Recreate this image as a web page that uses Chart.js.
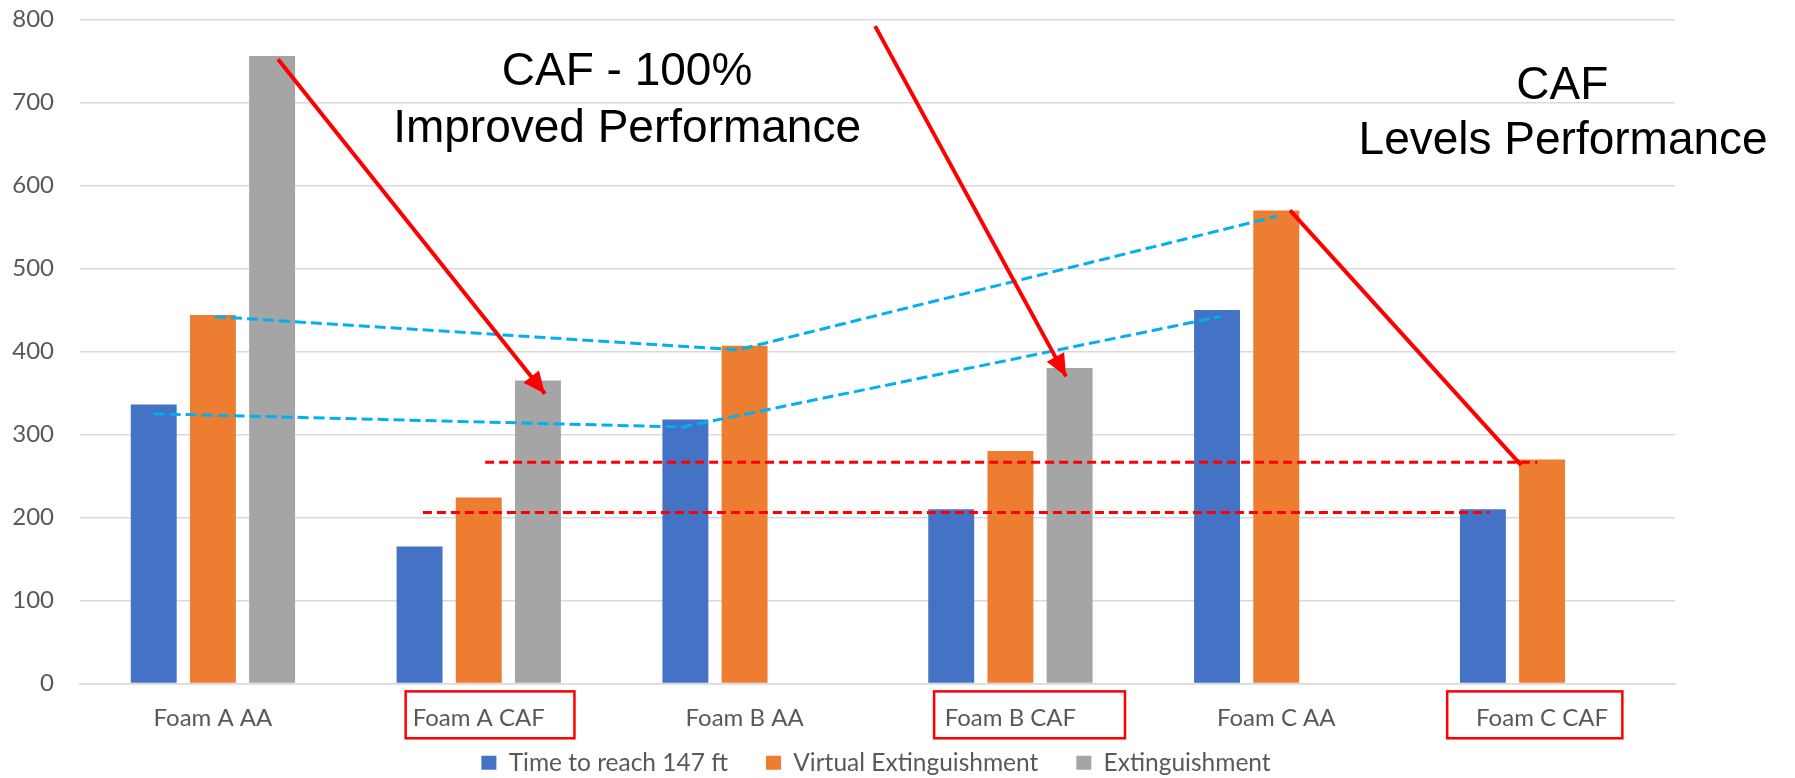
<!DOCTYPE html>
<html>
<head>
<meta charset="utf-8">
<script src="https://cdn.jsdelivr.net/npm/chart.js@4/dist/chart.umd.min.js"></script>
<style>
  html, body { margin: 0; padding: 0; background: #fff; }
  #wrap { width: 1795px; height: 778px; }
</style>
</head>
<body>
<div id="wrap"><canvas id="chart" width="1795" height="778"></canvas></div>
<script>
// chart data
const categories = ["Foam A AA", "Foam A CAF", "Foam B AA", "Foam B CAF", "Foam C AA", "Foam C CAF"];
const timeTo147 = [336, 165, 318, 210, 450, 210];
const virtualExt = [444, 224, 407, 280, 570, 270];
const extinguishment = [756, 365, null, 380, null, null];
const seriesNames = ["Time to reach 147 ft", "Virtual Extinguishment", "Extinguishment"];
const yTicks = [0, 100, 200, 300, 400, 500, 600, 700, 800];

// overlay notes, in chart units (x = category index, y = value)
const redArrows = [[0.245, 752, 1.249, 349], [2.491, 792, 3.209, 370], [4.052, 570, 4.921, 263]];
const blueUpper = [[0.008, 442], [1.976, 402], [4.003, 563]];
const blueLower = [[-0.223, 325], [1.767, 309], [3.789, 442]];
const redLevels = [[1.024, 4.982, 266.5], [0.790, 4.802, 206]];
const labelBoxes = [[0.725, 1.360], [2.713, 3.431], [4.643, 5.302]];
const notes = [["CAF - 100%", 1.558, 721], ["Improved Performance", 1.558, 653],
               ["CAF", 5.076, 704], ["Levels Performance", 5.079, 638]];

const colors = ["#4472c4", "#ed7d31", "#a5a5a5"];
const tickFont = { family: "Lato", size: 24 };
const legendFont = { family: "Lato", size: 24.5 };

function pt(chart, x, y) {
  return [chart.scales.x.getPixelForValue(x), chart.scales.y.getPixelForValue(y)];
}

function arrow(ctx, a, b, head) {
  ctx.beginPath();
  ctx.moveTo(a[0], a[1]);
  ctx.lineTo(b[0], b[1]);
  ctx.stroke();
  let ang = Math.atan2(b[1] - a[1], b[0] - a[0]);
  ctx.beginPath();
  ctx.moveTo(b[0], b[1]);
  ctx.lineTo(b[0] - head * Math.cos(ang) + head * 0.45 * Math.sin(ang), b[1] - head * Math.sin(ang) - head * 0.45 * Math.cos(ang));
  ctx.lineTo(b[0] - head * Math.cos(ang) - head * 0.45 * Math.sin(ang), b[1] - head * Math.sin(ang) + head * 0.45 * Math.cos(ang));
  ctx.closePath();
  ctx.fill();
}

// legend items sit wide apart, but the legend itself sits close under the labels
const legendLift = {
  id: "legendLift",
  afterLayout(chart) {
    chart.legend.top -= 20;
    chart.legend.bottom -= 20;
  }
};

const overlay = {
  id: "overlay",
  afterDraw(chart) {
    const ctx = chart.ctx;
    ctx.save();

    // blue dashed trend lines
    ctx.strokeStyle = "#00b0f0";
    ctx.lineWidth = 3;
    ctx.setLineDash([11, 5]);
    [blueUpper, blueLower].forEach(line => {
      ctx.beginPath();
      line.forEach((p, i) => {
        let q = pt(chart, p[0], p[1]);
        if (i === 0) ctx.moveTo(q[0], q[1]); else ctx.lineTo(q[0], q[1]);
      });
      ctx.stroke();
    });

    // red dashed level lines
    ctx.strokeStyle = "#ff0000";
    ctx.setLineDash([9, 5]);
    redLevels.forEach(l => {
      let a = pt(chart, l[0], l[2]), b = pt(chart, l[1], l[2]);
      ctx.beginPath();
      ctx.moveTo(a[0], a[1]);
      ctx.lineTo(b[0], b[1]);
      ctx.stroke();
    });

    // red arrows
    ctx.setLineDash([]);
    ctx.lineWidth = 4;
    ctx.fillStyle = "#ff0000";
    redArrows.forEach((r, i) => {
      arrow(ctx, pt(chart, r[0], r[1]), pt(chart, r[2], r[3]), i < 2 ? 22 : 6);
    });

    // boxes round the CAF labels
    ctx.lineWidth = 2.5;
    labelBoxes.forEach(bx => {
      let a = pt(chart, bx[0], -9.5), b = pt(chart, bx[1], -66);
      ctx.strokeRect(a[0], a[1], b[0] - a[0], b[1] - a[1]);
    });

    // text notes
    ctx.fillStyle = "#000";
    ctx.font = "46px 'Liberation Sans', Arial, sans-serif";
    ctx.textAlign = "center";
    ctx.textBaseline = "alphabetic";
    notes.forEach(n => {
      let q = pt(chart, n[1], n[2]);
      ctx.fillText(n[0], q[0], q[1]);
    });
    ctx.restore();
  }
};

new Chart(document.getElementById("chart"), {
  type: "bar",
  data: {
    labels: categories,
    datasets: [
      { label: seriesNames[0], data: timeTo147, backgroundColor: colors[0] },
      { label: seriesNames[1], data: virtualExt, backgroundColor: colors[1] },
      { label: seriesNames[2], data: extinguishment, backgroundColor: colors[2] }
    ]
  },
  options: {
    responsive: false,
    animation: false,
    categoryPercentage: 0.668,
    barPercentage: 0.776,
    layout: { padding: { top: 19.5, left: 10, right: 53, bottom: -27 } },
    plugins: {
      legend: {
        position: "bottom",
        labels: { boxWidth: 15, boxHeight: 14, padding: 38, color: "#595959", font: legendFont }
      },
      tooltip: { enabled: false }
    },
    scales: {
      x: {
        afterFit: s => { s.height = 49; },
        grid: { display: false, drawTicks: false },
        border: { display: true, color: "#d9d9d9", width: 1.5 },
        ticks: { color: "#595959", font: tickFont, padding: 20, maxRotation: 0, minRotation: 0 }
      },
      y: {
        min: 0,
        max: 800,
        afterBuildTicks: s => { s.ticks = yTicks.map(v => ({ value: v })); },
        afterFit: s => { s.width = 70; s.paddingTop = 0; s.paddingBottom = 0; },
        grid: { color: "#d9d9d9", lineWidth: 1.5, drawTicks: false },
        border: { display: false },
        ticks: { color: "#595959", font: tickFont, padding: 26 }
      },
      y2: {
        position: "right",
        afterFit: s => { s.width = 67; },
        grid: { display: false },
        border: { display: false },
        ticks: { display: false }
      }
    }
  },
  plugins: [legendLift, overlay]
});
</script>
</body>
</html>
